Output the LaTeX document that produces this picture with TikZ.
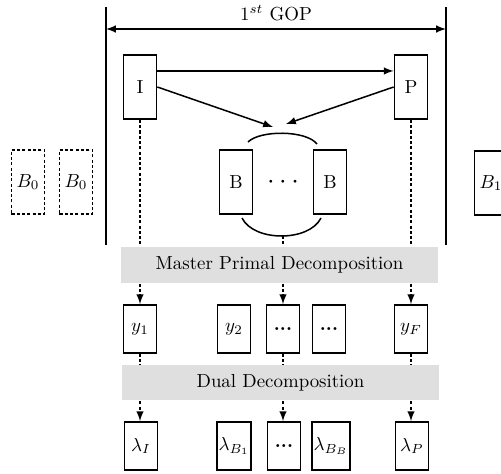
\documentclass[tikz,border=0pt]{standalone}
\usetikzlibrary{calc}
\usetikzlibrary{arrows}

\tikzset{
  frm/.style={draw,line width=.9pt,minimum width=17.5pt,minimum height=34pt,inner sep=1pt},
  sfrm/.style={frm,minimum height=25.5pt},
  dfrm/.style={frm,dashed,dash pattern=on 1.6pt off 1.2pt},
  band/.style={fill=gray!25,minimum width=168pt,minimum height=19pt,inner sep=0pt},
  darr/.style={-latex,line width=.8pt,dash pattern=on 1.6pt off 1.2pt},
  sarr/.style={-latex,line width=.8pt}
}

\begin{document}
\begin{tikzpicture}[x=.53pt,y=-.53pt]
\clip (0,0) rectangle (501,474);
% GOP frame
\coordinate(LT) at (106,7);
\coordinate(LB) at (106,245);
\coordinate(RT) at (446,7);
\coordinate(RB) at (446,245);
\draw[line width=1pt] (LT) -- (LB);
\draw[line width=1pt] (RT) -- (RB);
\draw[latex-latex,line width=.8pt] (106,29) -- (446,29);
\node (gop) at (276,13) {$1^{st}$ GOP};
% frames
\node[frm] (I) at (140,87) {I};
\node[frm] (P) at (411,87) {P};
\node[frm] (B1) at (236,182) {B};
\node (bdots) at (283,182) {\Large $\cdots$};
\node[frm] (B2) at (330,182) {B};
\node[dfrm] (b0a) at (28,182) {$B_0$};
\node[dfrm] (b0b) at (76,182) {$B_0$};
\node[frm] (bnext) at (491,183) {$B_1$};
% arcs round the B group
\coordinate(bt) at (283,132);
\coordinate(bb) at (283,236);
\draw[line width=.8pt] (248,142) .. controls (260,130) and (306,130) .. (317,144);
\draw[line width=.8pt] (242,218) .. controls (254,242) and (309,242) .. (321,218);
\coordinate(tipL) at (273,127);
\coordinate(tipR) at (286,124);
\draw[sarr] ([yshift=8.5pt]I.east) -- ([yshift=8.5pt]P.west);
\draw[sarr] (I.east) -- (tipL);
\draw[sarr] (P.west) -- (tipR);
% y row
\node[sfrm] (y1) at (140,329) {$y_1$};
\node[sfrm] (y2) at (234,329) {$y_2$};
\node[sfrm] (ydots) at (283,329) {\textbf{...}};
\node[sfrm] (ydotsb) at (329,329) {\textbf{...}};
\node[sfrm] (yF) at (411,329) {$y_F$};
% lambda row
\node[sfrm] (lI) at (141,446) {$\lambda_I$};
\node[sfrm] (lB1) at (234,446) {$\lambda_{B_1}$};
\node[sfrm] (ldots) at (284,446) {\textbf{...}};
\node[sfrm] (lBB) at (331,446) {$\lambda_{B_B}$};
\node[sfrm] (lP) at (412,446) {$\lambda_P$};
% dashed links
\draw[darr] (I.south) -- (y1.north);
\draw[darr] (bb) -- (ydots.north);
\draw[darr] (P.south) -- (yF.north);
\draw[darr] (y1.south) -- (lI.north -| y1.south);
\draw[darr] (ydots.south) -- (ldots.north -| ydots.south);
\draw[darr] (yF.south) -- (lP.north -| yF.south);
% bands
\node[band] (mpd) at (279.5,265) {Master Primal Decomposition};
\node[band] (dd) at (280.5,382.5) {Dual Decomposition};
\end{tikzpicture}
\end{document}
